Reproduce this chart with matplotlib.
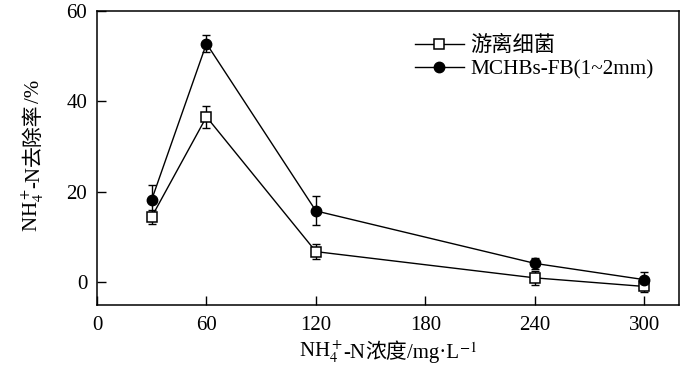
import matplotlib
matplotlib.use("Agg")
import matplotlib.pyplot as plt
from matplotlib.lines import Line2D

plt.rcParams['font.family'] = ['Liberation Serif', 'Noto Sans CJK SC', 'DejaVu Sans']
plt.rcParams['mathtext.fontset'] = 'stix'

# data
conc = [30, 60, 120, 240, 300]
free_bac = [14.5, 36.6, 6.8, 1.0, -0.9]
free_err = [1.6, 2.4, 1.6, 1.5, 1.2]
fb = [18.3, 52.8, 15.8, 4.2, 0.6]
fb_err = [3.2, 1.8, 3.2, 1.2, 1.6]
xticks = [0, 60, 120, 180, 240, 300]
yticks = [0, 20, 40, 60]
names = ['游离细菌', 'MCHBs-FB(1~2mm)']

W, H = 700, 367
fig = plt.figure(figsize=(7, 3.67), dpi=100)
ax = fig.add_axes([97 / W, 1 - 305 / H, 582 / W, 294 / H])

ax.errorbar(conc, free_bac, yerr=free_err, fmt='none', ecolor='black',
            elinewidth=1.0, capsize=3.2, capthick=1.0, zorder=2)
ax.errorbar(conc, fb, yerr=fb_err, fmt='none', ecolor='black',
            elinewidth=1.0, capsize=3.2, capthick=1.0, zorder=2)
ax.plot(conc, free_bac, color='black', lw=1.0, marker='s', markersize=6.5,
        markerfacecolor='white', markeredgewidth=1.1, zorder=3)
ax.plot(conc, fb, color='black', lw=1.0, marker='o', markersize=7.5,
        markerfacecolor='black', zorder=3)

ax.set_xlim(0, 319)
ax.set_ylim(-5, 60)
ax.set_xticks(xticks)
ax.set_yticks(yticks)
ax.tick_params(direction='in', length=6.5, width=1, labelsize=15)
ax.tick_params(axis='x', pad=8)
ax.tick_params(axis='y', pad=7)
for s in ax.spines.values():
    s.set_linewidth(1.1)

handles = [
    Line2D([], [], color='black', lw=1.0, marker='s', markersize=6.5,
           markerfacecolor='white', markeredgewidth=1.1),
    Line2D([], [], color='black', lw=1.0, marker='o', markersize=7.5,
           markerfacecolor='black'),
]
ax.legend(handles, names, loc='upper left', bbox_to_anchor=(415 / W, 1 - 36 / H),
          bbox_transform=fig.transFigure, frameon=False, fontsize=15.3,
          handlelength=2.3, handletextpad=0.3, labelspacing=0.18,
          borderpad=0, borderaxespad=0)


# axis titles: pieces in different fonts laid end to end
def label(pieces, cx, cy, vertical=False, size=15):
    rend = fig.canvas.get_renderer()
    objs = []
    total = 0
    for s in pieces:
        t = fig.text(0, 0, s, fontsize=size, ha='left', va='baseline',
                     rotation_mode='anchor')
        w = t.get_window_extent(rend).width
        objs.append((t, w))
        total += w
    pos = -total / 2
    for t, w in objs:
        if vertical:
            t.set_rotation(90)
            t.set_position((cx / W, 1 - (cy - pos) / H))
        else:
            t.set_position(((cx + pos) / W, 1 - cy / H))
        pos += w


label(['NH$_4^+$', '-N', '浓度', '/mg·L', '$^{-1}$'], 388, 358)
label(['NH$_4^+$', '-N', '去除率', '/%'], 39, 156, vertical=True)

fig.savefig('out.png', dpi=100)
